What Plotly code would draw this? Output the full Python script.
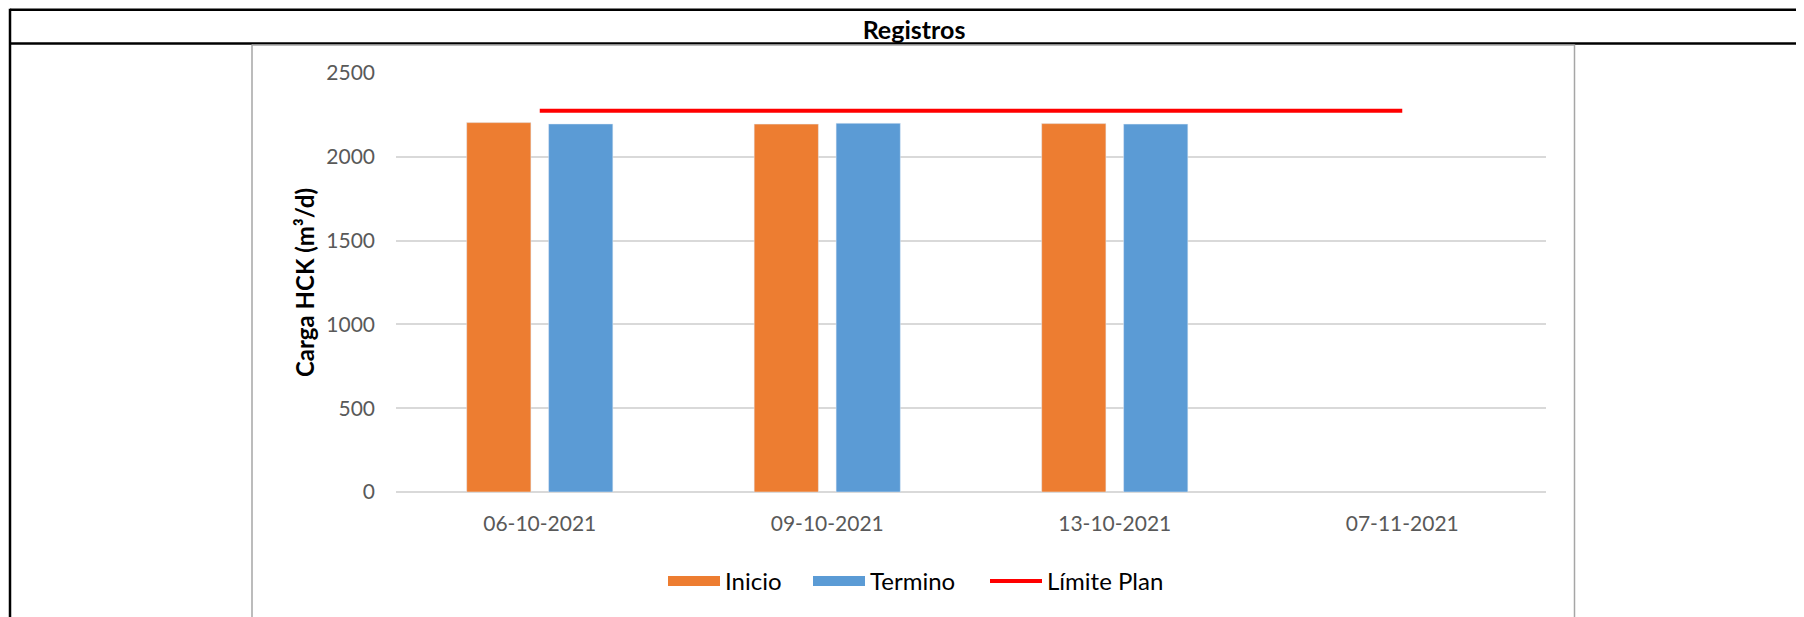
import plotly.graph_objects as go

# ---- data ----
categories = ["06-10-2021", "09-10-2021", "13-10-2021", "07-11-2021"]
inicio = [2204, 2195, 2198, None]
termino = [2196, 2200, 2195, None]
limite_plan = [2275, 2275, 2275, 2275]
y_ticks = [0, 500, 1000, 1500, 2000, 2500]

OFF = 8  # default page body margin
W, H = 1804 - OFF, 617 - OFF
# plot area in screen pixels
SPL, SPR, SPT, SPB = 396, 1546, 72.5, 492.5
PL, PR, PT, PB = SPL - OFF, SPR - OFF, SPT - OFF, SPB - OFF


def px(x):  # screen pixel -> paper
    return (x - SPL) / (SPR - SPL)


def py(y):
    return (SPB - y) / (SPB - SPT)


ORANGE = "#ED7D31"
BLUE = "#5B9BD5"
RED = "#FF0000"
FONT = "Lato"

fig = go.Figure()
fig.add_trace(go.Bar(x=categories, y=inicio, name="Inicio", marker_color=ORANGE,
                     showlegend=False))
fig.add_trace(go.Bar(x=categories, y=termino, name="Termino", marker_color=BLUE,
                     showlegend=False))
fig.add_trace(go.Scatter(x=categories, y=limite_plan, name="Límite Plan", mode="lines",
                         line=dict(color=RED, width=4), showlegend=False))
# legend entries
fig.add_trace(go.Scatter(x=[None], y=[None], name="Inicio", mode="lines",
                         line=dict(color=ORANGE, width=14), legend="legend"))
fig.add_trace(go.Scatter(x=[None], y=[None], name="Termino", mode="lines",
                         line=dict(color=BLUE, width=14), legend="legend2"))
fig.add_trace(go.Scatter(x=[None], y=[None], name="Límite Plan", mode="lines",
                         line=dict(color=RED, width=4), legend="legend3"))

shapes = []
blk = dict(color="black", width=2.5)
gry = dict(color="#A6A6A6", width=1.5)
shapes.append(dict(type="line", xref="paper", yref="paper", x0=px(10), x1=px(1830), y0=py(9), y1=py(9), line=blk))
shapes.append(dict(type="line", xref="paper", yref="paper", x0=px(10), x1=px(1830), y0=py(43), y1=py(43), line=blk))
shapes.append(dict(type="line", xref="paper", yref="paper", x0=px(10), x1=px(10), y0=py(8), y1=py(640), line=blk))
shapes.append(dict(type="line", xref="paper", yref="paper", x0=px(252), x1=px(252), y0=py(44), y1=py(640), line=gry))
shapes.append(dict(type="line", xref="paper", yref="paper", x0=px(1574.5), x1=px(1574.5), y0=py(44), y1=py(640), line=gry))
shapes.append(dict(type="line", xref="paper", yref="paper", x0=px(252), x1=px(1574.5), y0=py(44.5), y1=py(44.5), line=gry))


def leg(x_screen):
    return dict(orientation="h", x=px(x_screen), xanchor="left", y=py(582), yanchor="middle",
                font=dict(family=FONT, size=24, color="black"), itemwidth=52,
                bgcolor="rgba(0,0,0,0)")


fig.update_layout(
    width=W, height=H,
    margin=dict(l=PL, r=W - PR, t=PT, b=H - PB, autoexpand=False),
    paper_bgcolor="white", plot_bgcolor="white",
    font=dict(family=FONT, size=21, color="#595959"),
    barmode="group", bargap=0.43, bargroupgap=0.216,
    title=dict(text="<b>Registros</b>", x=(914 - OFF) / W, xref="container", xanchor="center",
               y=1 - (30 - OFF) / H, yref="container", yanchor="middle",
               font=dict(family=FONT, size=25, color="black")),
    xaxis=dict(type="category", categoryorder="array", categoryarray=categories,
               showgrid=False, showline=False, ticks="", zeroline=False,
               ticklabelstandoff=17, tickfont=dict(size=21, color="#595959")),
    yaxis=dict(range=[0, 2500], tickvals=y_ticks, showgrid=True, gridcolor="#D9D9D9",
               gridwidth=1.5, zeroline=True, zerolinecolor="#D9D9D9", zerolinewidth=1.5,
               showline=False, ticks="", ticklabelstandoff=20,
               tickfont=dict(size=21, color="#595959"),
               title=dict(text="<b>Carga HCK (m³/d)</b>", standoff=4,
                          font=dict(family=FONT, size=24, color="black"))),
    legend=leg(668 - 5),
    legend2=leg(813 - 5),
    legend3=leg(990 - 5),
    shapes=shapes,
)

fig.write_html("out.html")
